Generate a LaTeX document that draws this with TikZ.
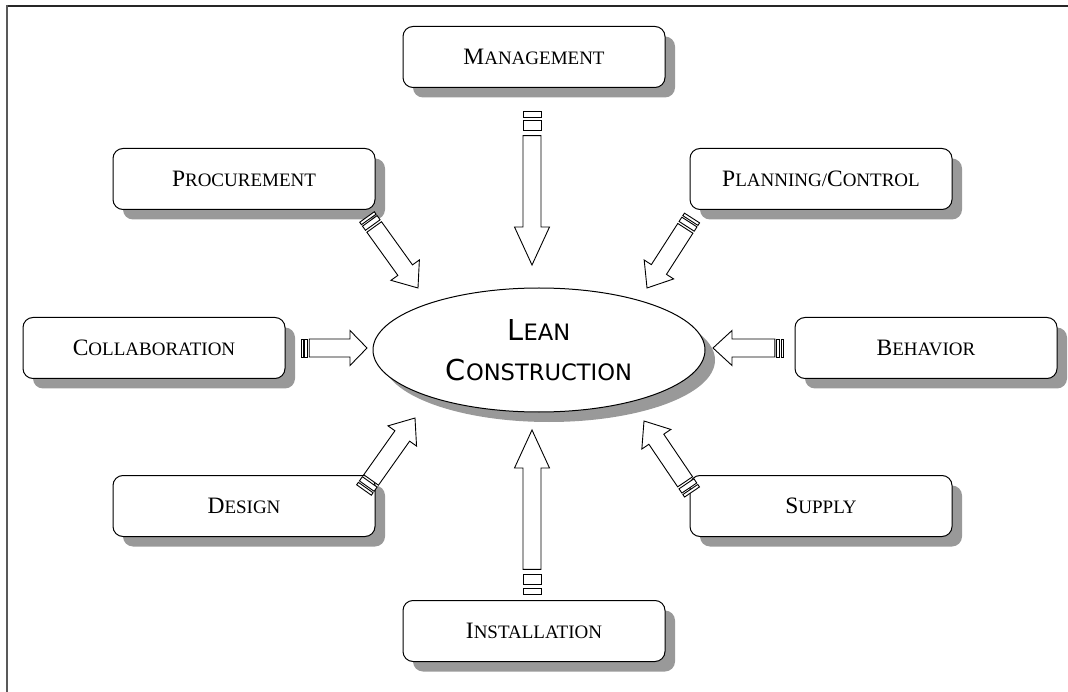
\documentclass[tikz,border=0pt]{standalone}
\usepackage{fontspec}
\setmainfont{Liberation Serif}
\newfontfamily\leanfont{DejaVu Sans}
\usetikzlibrary{shapes.geometric,shadows,calc}
\newcommand\scBig[1]{{\fontsize{23.5}{28}\selectfont #1}}
\newcommand\scSmall[1]{{\fontsize{19}{23}\selectfont #1}}
\newcommand\lnBig[1]{{\fontsize{28.8}{40}\selectfont #1}}
\newcommand\lnSmall[1]{{\fontsize{22.6}{40}\selectfont #1}}
\tikzset{
  boxnode/.style={draw=black, line width=1pt, fill=white, rounded corners=10pt,
    minimum width=262pt, minimum height=61pt, inner sep=0pt,
    drop shadow={shadow xshift=10pt, shadow yshift=-10pt, fill=black!40, opacity=1}},
  leannode/.style={ellipse, draw=black, line width=1pt, fill=white,
    minimum width=332pt, minimum height=124pt, inner sep=0pt, align=center,
    font=\leanfont\fontsize{22.6}{40}\selectfont,
    drop shadow={shadow xshift=10pt, shadow yshift=-10pt, fill=black!40, opacity=1}},
  arrowline/.style={draw=black, line width=0.9pt, fill=white, line join=miter}
}
% block arrow from tail coordinate #1 to tip coordinate #2, head length #3, stripe unit #4
\newcommand\blockarrow[4]{%
  \path let \p1=(#1), \p2=(#2), \n1={atan2(\y2-\y1,\x2-\x1)}, \n2={veclen(\x2-\x1,\y2-\y1)} in
    \pgfextra{\xdef\baAng{\n1}\xdef\baLen{\n2}};
  \begin{scope}[shift={(#1)}, rotate=\baAng, x=1pt, y=1pt]
    \pgfmathsetmacro\baH{#3}\pgfmathsetmacro\baS{#4}
    \draw[arrowline] (0,-9) rectangle (\baS,9);
    \draw[arrowline] ({1.6*\baS},-9) rectangle ({3.3*\baS},9);
    \draw[arrowline] ({4.1*\baS},-9) -- ({\baLen-\baH},-9) -- ({\baLen-\baH},-17.5) -- (\baLen,0)
      -- ({\baLen-\baH},17.5) -- ({\baLen-\baH},9) -- ({4.1*\baS},9) -- cycle;
  \end{scope}}
\begin{document}
\begin{tikzpicture}[x=1pt, y=-1pt]
\useasboundingbox (0,0) rectangle (1068,692);
% frame
\draw[black!85, line width=2pt] (7,6) -- (1068,6);
\draw[black!65, line width=2.2pt] (7,5) -- (7,692);

% boxes
\node[boxnode] (mgmt) at (534,57) {\scBig{M}\scSmall{ANAGEMENT}};
\node[boxnode] (proc) at (244,179) {\scBig{P}\scSmall{ROCUREMENT}};
\node[boxnode] (plan) at (821,179) {\scBig{P}\scSmall{LANNING/}\scBig{C}\scSmall{ONTROL}};
\node[boxnode] (coll) at (154,348) {\scBig{C}\scSmall{OLLABORATION}};
\node[boxnode] (behv) at (926,348) {\scBig{B}\scSmall{EHAVIOR}};
\node[boxnode] (desg) at (244,506) {\scBig{D}\scSmall{ESIGN}};
\node[boxnode] (supp) at (821,506) {\scBig{S}\scSmall{UPPLY}};
\node[boxnode] (inst) at (534,631) {\scBig{I}\scSmall{NSTALLATION}};

% central ellipse
\node[leannode] (lean) at (539,350) {\lnBig{L}\lnSmall{EAN}\\\lnBig{C}\lnSmall{ONSTRUCTION}};

% arrow end points
\coordinate (mgmtT) at (532,111);  \coordinate (mgmtH) at (532,265);
\coordinate (instT) at (532,594);  \coordinate (instH) at (532,430);
\coordinate (collT) at (301,348);  \coordinate (collH) at (367,348);
\coordinate (behvT) at (783,348);  \coordinate (behvH) at (713,348);
\coordinate (procT) at (367,217);  \coordinate (procH) at (418,288);
\coordinate (planT) at (692,218);  \coordinate (planH) at (647,288);
\coordinate (desgT) at (364,490);  \coordinate (desgH) at (415,418);
\coordinate (suppT) at (692,492);  \coordinate (suppH) at (644,421);

\blockarrow{mgmtT}{mgmtH}{38}{6}
\blockarrow{instT}{instH}{38}{6}
\blockarrow{collT}{collH}{17}{2}
\blockarrow{behvT}{behvH}{19}{2}
\blockarrow{procT}{procH}{22}{3}
\blockarrow{planT}{planH}{22}{3}
\blockarrow{desgT}{desgH}{22}{3}
\blockarrow{suppT}{suppH}{22}{3}
\end{tikzpicture}
\end{document}
